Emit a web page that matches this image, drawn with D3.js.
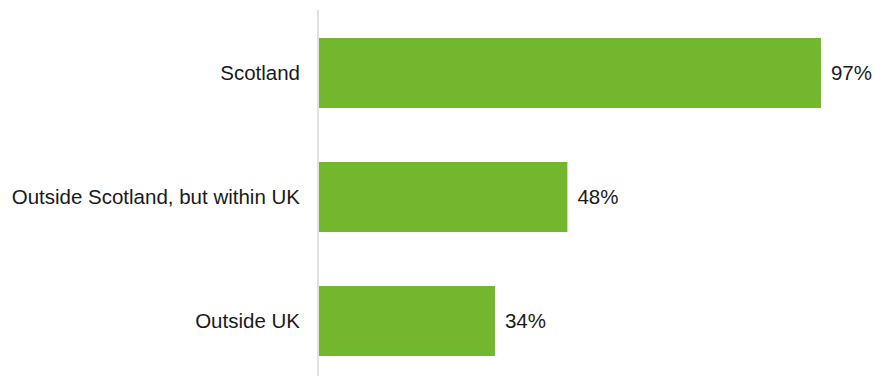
<!DOCTYPE html>
<html>
<head>
<meta charset="utf-8">
<script src="https://cdn.jsdelivr.net/npm/d3@7"></script>
<style>
  html, body { margin: 0; padding: 0; background: #fff; }
  svg { display: block; font-family: "Liberation Sans", Arial, sans-serif; }
</style>
</head>
<body>
<svg id="chart" width="874" height="376"></svg>
<script>
// Share of respondents by location
const categories = ["Scotland", "Outside Scotland, but within UK", "Outside UK"];
const values = [97, 48, 34];
const valueLabels = ["97%", "48%", "34%"];

const svg = d3.select("#chart");
const x0 = 318;

const x = d3.scaleLinear().domain([0, 100]).range([x0 + 1, x0 + 1 + 517.5]);
const y = d3.scaleBand()
  .domain(categories)
  .range([11, 383])
  .paddingInner(0.4355)
  .paddingOuter(0.4355 / 2);

// vertical category axis line
svg.append("line")
  .attr("x1", x0).attr("x2", x0)
  .attr("y1", 10).attr("y2", 376)
  .attr("stroke", "#d9d9d9")
  .attr("stroke-width", 1.5);

svg.selectAll("rect.bar")
  .data(values)
  .join("rect")
  .attr("class", "bar")
  .attr("x", x(0))
  .attr("y", (d, i) => y(categories[i]))
  .attr("width", d => x(d) - x(0))
  .attr("height", y.bandwidth())
  .attr("fill", "#73b72e");

// category labels
svg.selectAll("text.cat")
  .data(categories)
  .join("text")
  .attr("class", "cat")
  .attr("x", 300)
  .attr("y", d => y(d) + y.bandwidth() / 2)
  .attr("dy", "0.35em")
  .attr("text-anchor", "end")
  .attr("font-size", 20.5)
  .attr("fill", "#1a1a1a")
  .text(d => d);

// value labels
svg.selectAll("text.val")
  .data(values)
  .join("text")
  .attr("class", "val")
  .attr("x", d => x(d) + 10)
  .attr("y", (d, i) => y(categories[i]) + y.bandwidth() / 2)
  .attr("dy", "0.35em")
  .attr("font-size", 20.5)
  .attr("fill", "#1a1a1a")
  .text((d, i) => valueLabels[i]);
</script>
</body>
</html>
